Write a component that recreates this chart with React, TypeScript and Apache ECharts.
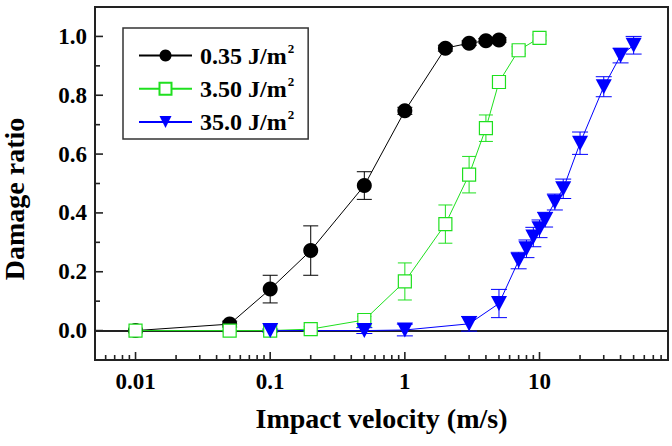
import React, { useEffect, useRef } from 'react';
import * as echarts from 'echarts';

const seriesNames = ['0.35 J/m²', '3.50 J/m²', '35.0 J/m²'];
const seriesColors = ['#000000', '#1fe01f', '#0000ff'];

const velBlack = [0.01, 0.05, 0.1, 0.2, 0.5, 1, 2, 3, 4, 5];
const dmgBlack = [0, 0.022, 0.141, 0.272, 0.493, 0.747, 0.96, 0.977, 0.985, 0.988];
const errBlack = [0.004, 0.01, 0.047, 0.084, 0.047, 0.012, 0.01, 0.008, 0.008, 0.008];

const velGreen = [0.01, 0.05, 0.1, 0.2, 0.5, 1, 2, 3, 4, 5, 7, 10];
const dmgGreen = [0, 0, 0, 0.005, 0.036, 0.167, 0.362, 0.53, 0.688, 0.845, 0.953, 0.995];
const errGreen = [0.005, 0.005, 0.005, 0.008, 0.012, 0.063, 0.065, 0.062, 0.045, 0.02, 0.012, 0.01];

const velBlue = [0.1, 0.5, 1, 3, 5, 7, 8, 9, 10, 11, 13, 15, 20, 30, 40, 50];
const dmgBlue = [0, 0, 0.002, 0.023, 0.092, 0.238, 0.278, 0.318, 0.346, 0.377, 0.437, 0.482, 0.637, 0.829, 0.935, 0.97];
const errBlue = [0.005, 0.01, 0.02, 0.025, 0.048, 0.028, 0.03, 0.033, 0.03, 0.025, 0.027, 0.033, 0.038, 0.034, 0.025, 0.03];

const xTickLabels = ['0.01', '0.1', '1', '10'];
const xMajorTicks = [0.01, 0.1, 1, 10];
const xMinorTicks = [
  0.006, 0.007, 0.008, 0.009,
  0.02, 0.03, 0.04, 0.05, 0.06, 0.07, 0.08, 0.09,
  0.2, 0.3, 0.4, 0.5, 0.6, 0.7, 0.8, 0.9,
  2, 3, 4, 5, 6, 7, 8, 9,
  20, 30, 40, 50, 60, 70, 80,
];
const yMajorTicks = [0, 0.2, 0.4, 0.6, 0.8, 1.0];
const yMinorTicks = [0.1, 0.3, 0.5, 0.7, 0.9];

const X_MIN = 0.005;
const X_MAX = 90;
const Y_MIN = -0.1;
const Y_MAX = 1.1;

const FONT = "'Liberation Serif', 'Times New Roman', serif";
const AXIS_COLOR = '#222';

function zip(v: number[], d: number[]) {
  return v.map((x, i) => [x, d[i]]);
}
function zip3(v: number[], d: number[], e: number[]) {
  return v.map((x, i) => [x, d[i], e[i]]);
}

function errSeries(data: number[][], color: string, capHalf: number) {
  return {
    type: 'custom',
    silent: true,
    clip: false,
    data,
    encode: { x: 0, y: 1 },
    renderItem: (params: any, api: any) => {
      const x = api.value(0);
      const y = api.value(1);
      const e = api.value(2);
      const top = api.coord([x, y + e]);
      const bot = api.coord([x, y - e]);
      const style = { stroke: color, lineWidth: 1 };
      return {
        type: 'group',
        children: [
          { type: 'line', shape: { x1: top[0], y1: top[1], x2: bot[0], y2: bot[1] }, style },
          { type: 'line', shape: { x1: top[0] - capHalf, y1: top[1], x2: top[0] + capHalf, y2: top[1] }, style },
          { type: 'line', shape: { x1: bot[0] - capHalf, y1: bot[1], x2: bot[0] + capHalf, y2: bot[1] }, style },
        ],
      };
    },
  };
}

function tickSeries(data: number[][], vertical: boolean, len: number) {
  return {
    type: 'custom',
    silent: true,
    clip: false,
    z: 10,
    data,
    encode: { x: 0, y: 1 },
    renderItem: (params: any, api: any) => {
      const p = api.coord([api.value(0), api.value(1)]);
      const shape = vertical
        ? { x1: p[0], y1: p[1], x2: p[0], y2: p[1] - len }
        : { x1: p[0], y1: p[1], x2: p[0] + len, y2: p[1] };
      return { type: 'line', shape, style: { stroke: AXIS_COLOR, lineWidth: 1.6 } };
    },
  };
}

const tri = 'path://M0,0L16,0L8,15Z';

export default function App() {
  const ref = useRef<HTMLDivElement>(null);
  useEffect(() => {
    if (!ref.current) return;
    const chart = echarts.init(ref.current, undefined, { renderer: 'svg' });
    const option: any = {
      animation: false,
      backgroundColor: '#fff',
      textStyle: { fontFamily: FONT },
      grid: {
        left: 95, right: 4, top: 7, bottom: 86,
        containLabel: false,
        outerBoundsMode: 'none',
        show: true,
        borderColor: AXIS_COLOR,
        borderWidth: 2,
        backgroundColor: 'transparent',
      },
      xAxis: {
        type: 'log',
        logBase: 10,
        min: X_MIN,
        max: X_MAX,
        axisLine: { show: true, lineStyle: { color: AXIS_COLOR, width: 2 } },
        axisTick: { show: false },
        minorTick: { show: false },
        splitLine: { show: false },
        axisLabel: {
          margin: 10,
          color: '#000',
          fontSize: 23,
          fontWeight: 'bold',
          fontFamily: FONT,
          formatter: (v: number) => {
            const l = Math.log10(v);
            const idx = xMajorTicks.findIndex((t) => Math.abs(Math.log10(t) - l) < 1e-6);
            return idx >= 0 ? xTickLabels[idx] : '';
          },
        },
        name: 'Impact velocity (m/s)',
        nameLocation: 'middle',
        nameGap: 44,
        nameTextStyle: { color: '#000', fontSize: 28, fontWeight: 'bold', fontFamily: FONT },
      },
      yAxis: {
        type: 'value',
        min: Y_MIN,
        max: Y_MAX,
        interval: 0.1,
        axisLine: { show: true, lineStyle: { color: AXIS_COLOR, width: 2 } },
        axisTick: { show: false },
        splitLine: { show: false },
        axisLabel: {
          margin: 8,
          color: '#000',
          fontSize: 23,
          fontWeight: 'bold',
          fontFamily: FONT,
          formatter: (v: number) => {
            const idx = yMajorTicks.findIndex((t) => Math.abs(t - v) < 1e-6);
            return idx >= 0 ? yMajorTicks[idx].toFixed(1) : '';
          },
        },
      },
      legend: {
        data: seriesNames,
        orient: 'vertical',
        left: 123,
        top: 28,
        padding: [13.5, 14, 5, 15],
        itemWidth: 53,
        itemHeight: 15,
        itemGap: 7.3,
        borderColor: '#333',
        borderWidth: 1.5,
        backgroundColor: '#fff',
        formatter: (name: string) => `{t|${name.replace('²', '')}}{s|2}`,
        textStyle: {
          rich: {
            t: { fontSize: 24, fontWeight: 'bold', fontFamily: FONT, color: '#000', lineHeight: 28, padding: [0, 0, 0, 3] },
            s: { fontSize: 13, fontWeight: 'bold', fontFamily: FONT, color: '#000', lineHeight: 13, verticalAlign: 'top', padding: [0, 0, 8, 1] },
          },
        },
      },
      graphic: [
        {
          type: 'text',
          x: 14,
          y: 199,
          rotation: Math.PI / 2,
          style: {
            text: 'Damage ratio',
            fill: '#000',
            font: `bold 28px ${FONT}`,
            textAlign: 'center',
            textVerticalAlign: 'middle',
          },
        },
      ],
      series: [
        {
          name: seriesNames[0],
          type: 'line',
          data: zip(velBlack, dmgBlack),
          symbol: 'circle',
          symbolSize: 15,
          itemStyle: { color: seriesColors[0] },
          lineStyle: { color: seriesColors[0], width: 1 },
          clip: false,
        },
        errSeries(zip3(velBlack, dmgBlack, errBlack), seriesColors[0], 7.5),
        {
          name: seriesNames[1],
          type: 'line',
          data: zip(velGreen, dmgGreen),
          symbol: 'rect',
          symbolSize: 13,
          itemStyle: { color: '#ffffff', borderColor: seriesColors[1], borderWidth: 1.2 },
          lineStyle: { color: seriesColors[1], width: 1 },
          clip: false,
        },
        errSeries(zip3(velGreen, dmgGreen, errGreen), seriesColors[1], 7),
        {
          name: seriesNames[2],
          type: 'line',
          data: zip(velBlue, dmgBlue),
          symbol: tri,
          symbolSize: [16, 15],
          itemStyle: { color: seriesColors[2] },
          lineStyle: { color: seriesColors[2], width: 1 },
          clip: false,
        },
        errSeries(zip3(velBlue, dmgBlue, errBlue), seriesColors[2], 8),
        tickSeries(xMajorTicks.map((v) => [v, Y_MIN]), true, 8),
        tickSeries(xMinorTicks.map((v) => [v, Y_MIN]), true, 5),
        tickSeries(yMajorTicks.map((v) => [X_MIN, v]), false, 8),
        tickSeries(yMinorTicks.map((v) => [X_MIN, v]), false, 5),
      ],
    };
    chart.setOption(option);
    return () => chart.dispose();
  }, []);
  return <div ref={ref} style={{ width: 672, height: 446, position: 'absolute', left: 0, top: 0 }} />;
}
